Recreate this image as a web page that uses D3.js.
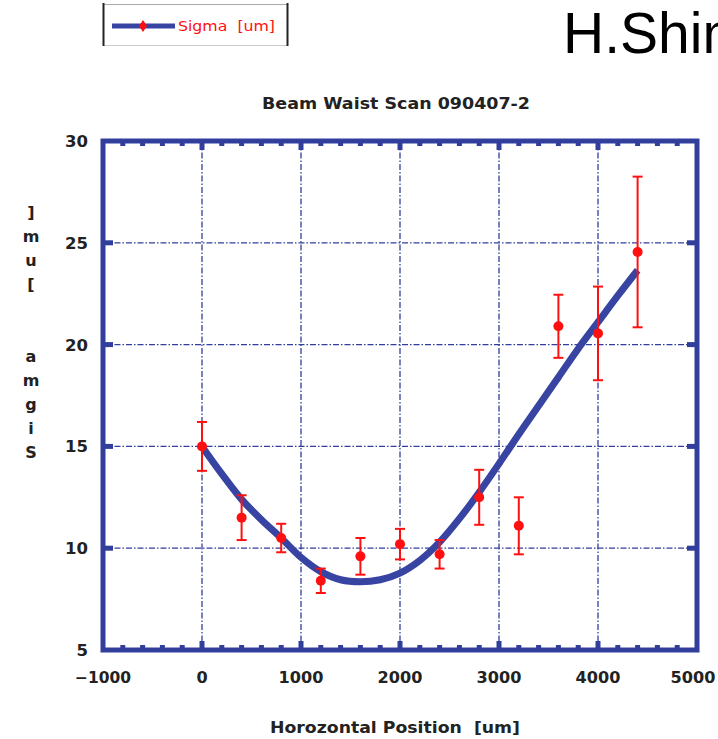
<!DOCTYPE html>
<html><head><meta charset="utf-8">
<script src="https://cdn.jsdelivr.net/npm/d3@7"></script>
<style>body{margin:0;background:#fff;overflow:hidden}svg{display:block}text{white-space:pre}</style>
</head><body>
<script>
// ---- data ----
const pointX   = [0, 400, 800, 1200, 1600, 2000, 2400, 2800, 3200, 3600, 4000, 4400];
const sigma    = [15.0, 11.5, 10.5, 8.4, 9.6, 10.2, 9.7, 12.5, 11.1, 20.9, 20.55, 24.55];
const sigmaErr = [1.2, 1.1, 0.7, 0.6, 0.9, 0.75, 0.7, 1.35, 1.4, 1.55, 2.3, 3.7];
const fitX     = [0, 200, 400, 600, 800, 1000, 1200, 1400, 1600, 1800, 2000, 2200, 2400, 2600, 2800, 3000, 3200, 3400, 3600, 3800, 4000, 4200, 4400];
const fitY     = [15.0, 13.65, 12.4, 11.4, 10.5, 9.55, 8.85, 8.45, 8.35, 8.45, 8.78, 9.4, 10.3, 11.45, 12.75, 14.15, 15.6, 17.0, 18.4, 19.8, 21.1, 22.4, 23.65];
const xTicks   = [-1000, 0, 1000, 2000, 3000, 4000, 5000];
const yTicks   = [5, 10, 15, 20, 25, 30];
const xMinor   = d3.range(-1000, 5001, 200);
const title    = "Beam Waist Scan 090407-2";
const xTitle   = "Horozontal Position  [um]";
const yTitle   = "Sigma  [um]";
const legendLabel = "Sigma  [um]";
const author   = "H.Shimizu";

const W = 718, H = 739;
const navy = "#323e9c", red = "#ff1010";
const svg = d3.select("body").append("svg").attr("width", W).attr("height", H);

const x = d3.scaleLinear().domain([-1000, 5000]).range([103, 697]);
const y = d3.scaleLinear().domain([5, 30]).range([650, 141]);

// grid
const grid = svg.append("g").attr("stroke", navy).attr("stroke-width", 1.3)
  .attr("stroke-dasharray", "6,2,1.5,2").attr("fill", "none");
xTicks.slice(1, -1).forEach(v => grid.append("line")
  .attr("x1", x(v)).attr("x2", x(v)).attr("y1", y(30)).attr("y2", y(5)));
yTicks.slice(1, -1).forEach(v => grid.append("line")
  .attr("x1", x(-1000)).attr("x2", x(5000)).attr("y1", y(v)).attr("y2", y(v)));

// ticks (inward)
const tk = svg.append("g").attr("fill", navy);
xMinor.forEach(v => {
  const major = v % 1000 === 0;
  if (v === -1000 || v === 5000) return;
  const w = 5, h = major ? 9 : 5;
  tk.append("rect").attr("x", x(v) - w / 2).attr("y", y(30)).attr("width", w).attr("height", h);
  tk.append("rect").attr("x", x(v) - w / 2).attr("y", y(5) - h).attr("width", w).attr("height", h);
});
yTicks.slice(1, -1).forEach(v => {
  tk.append("rect").attr("x", x(-1000)).attr("y", y(v) - 2.5).attr("width", 10).attr("height", 5);
  tk.append("rect").attr("x", x(5000) - 10).attr("y", y(v) - 2.5).attr("width", 10).attr("height", 5);
});

// frame
svg.append("rect").attr("x", x(-1000)).attr("y", y(30))
  .attr("width", x(5000) - x(-1000)).attr("height", y(5) - y(30))
  .attr("fill", "none").attr("stroke", navy).attr("stroke-width", 5);

// tick labels
const lblFont = "'DejaVu Sans', sans-serif";
const lblText = d => d === -1000 ? "\u22121000" : String(d);
svg.append("g").selectAll("text").data(xTicks).join("text")
  .attr("x", d => d === 5000 ? x(d) - 4 : x(d)).attr("y", 683).attr("text-anchor", "middle")
  .attr("font-family", lblFont).attr("font-size", 15.5).attr("font-weight", "bold")
  .attr("fill", "#222")
  .attr("textLength", d => lblText(d).length * 11.2)
  .attr("lengthAdjust", "spacingAndGlyphs")
  .text(lblText);
svg.append("g").selectAll("text").data(yTicks).join("text")
  .attr("x", 88).attr("y", d => y(d) + 6).attr("text-anchor", "end")
  .attr("font-family", lblFont).attr("font-size", 16.5).attr("font-weight", "bold")
  .attr("fill", "#222").text(d => d);

// title
svg.append("text").attr("x", 396).attr("y", 109).attr("text-anchor", "middle")
  .attr("font-family", lblFont).attr("font-size", 15).attr("font-weight", "bold")
  .attr("fill", "#222").attr("textLength", 268).attr("lengthAdjust", "spacingAndGlyphs").text(title);

// x title
svg.append("text").attr("x", 395).attr("y", 733).attr("text-anchor", "middle")
  .attr("font-family", lblFont).attr("font-size", 15).attr("font-weight", "bold")
  .attr("fill", "#222").attr("textLength", 250).attr("lengthAdjust", "spacingAndGlyphs").text(xTitle);

// y title: stacked characters, reversed, upright
const chars = yTitle.split("").reverse();
svg.append("g").selectAll("text").data(chars).join("text")
  .attr("x", 31).attr("y", (d, i) => 218 + i * 24).attr("text-anchor", "middle")
  .attr("font-family", lblFont).attr("font-size", 16).attr("font-weight", "bold")
  .attr("fill", "#222").text(d => d);

// fit curve
const line = d3.line().x((d, i) => x(fitX[i])).y(d => y(d)).curve(d3.curveCatmullRom);
svg.append("path").datum(fitY).attr("d", line).attr("fill", "none")
  .attr("stroke", "#3844a2").attr("stroke-width", 7).attr("stroke-linecap", "butt");

// error bars + points
const eb = svg.append("g").attr("stroke", red).attr("stroke-width", 2);
pointX.forEach((px, i) => {
  const lo = y(sigma[i] - sigmaErr[i]), hi = y(sigma[i] + sigmaErr[i]), cx = x(px);
  eb.append("line").attr("x1", cx).attr("x2", cx).attr("y1", lo).attr("y2", hi);
  eb.append("line").attr("x1", cx - 5).attr("x2", cx + 5).attr("y1", lo).attr("y2", lo);
  eb.append("line").attr("x1", cx - 5).attr("x2", cx + 5).attr("y1", hi).attr("y2", hi);
});
svg.append("g").selectAll("circle").data(sigma).join("circle")
  .attr("cx", (d, i) => x(pointX[i])).attr("cy", d => y(d)).attr("r", 5).attr("fill", red);

// legend
const lg = svg.append("g");
lg.append("line").attr("x1", 103).attr("x2", 288).attr("y1", 4.5).attr("y2", 4.5).attr("stroke", "#aaa").attr("stroke-width", 1);
lg.append("line").attr("x1", 103).attr("x2", 288).attr("y1", 45.5).attr("y2", 45.5).attr("stroke", "#ccc").attr("stroke-width", 1);
lg.append("line").attr("x1", 103.5).attr("x2", 103.5).attr("y1", 3).attr("y2", 46).attr("stroke", "#222").attr("stroke-width", 2);
lg.append("line").attr("x1", 287.5).attr("x2", 287.5).attr("y1", 3).attr("y2", 46).attr("stroke", "#222").attr("stroke-width", 2);
lg.append("line").attr("x1", 112).attr("x2", 175).attr("y1", 26).attr("y2", 26).attr("stroke", "#3844a2").attr("stroke-width", 5);
lg.append("path").attr("d", "M143,20 L147,26 L143,32 L139,26 Z").attr("fill", red);
lg.append("text").attr("x", 178).attr("y", 31).attr("font-family", lblFont).attr("font-size", 13.5)
  .attr("fill", red).attr("textLength", 97).attr("lengthAdjust", "spacingAndGlyphs").text(legendLabel);

// author (cut off at the right edge, as in the reference)
svg.append("text").attr("x", 563).attr("y", 53).attr("font-family", "'Liberation Sans', Arial, sans-serif")
  .attr("font-size", 57).attr("fill", "#000").text(author);
</script>
</body></html>
